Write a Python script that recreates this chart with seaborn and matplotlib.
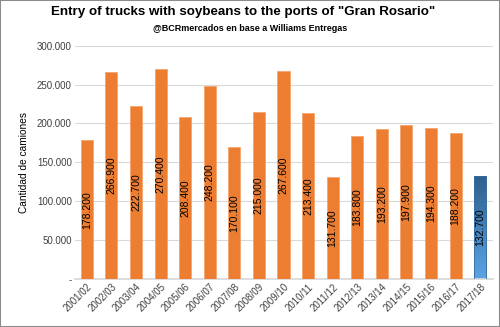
import numpy as np
import pandas as pd
import matplotlib
matplotlib.use("Agg")
import matplotlib.pyplot as plt
import seaborn as sns
from matplotlib.colors import LinearSegmentedColormap

campaigns = ["2001/02", "2002/03", "2003/04", "2004/05", "2005/06", "2006/07",
             "2007/08", "2008/09", "2009/10", "2010/11", "2011/12", "2012/13",
             "2013/14", "2014/15", "2015/16", "2016/17", "2017/18"]
trucks = [178200, 266900, 222700, 270400, 208400, 248200, 170100, 215000,
          267600, 213400, 131700, 183800, 193200, 197900, 194300, 188200, 132700]
yticks = [0, 50000, 100000, 150000, 200000, 250000, 300000]

df = pd.DataFrame({"campaign": campaigns, "trucks": trucks})

sns.set_theme(style="white")
plt.rcParams["font.family"] = ["Liberation Sans", "DejaVu Sans"]

fig = plt.figure(figsize=(5.0, 3.27), dpi=100)
ax = fig.add_axes([0.149, 0.147, 0.836, 0.713])

orange = "#ED7D31"
sns.barplot(data=df, x="campaign", y="trucks", color=orange, width=0.49,
            saturation=1, ax=ax, zorder=3, edgecolor="#F4A46C", linewidth=0.6)

# Latest campaign bar: blue vertical gradient
last = ax.patches[-1]
last.set_facecolor("none")
last.set_edgecolor("#3A6E9E")
x0, y0 = last.get_x(), last.get_y()
w, h = last.get_width(), last.get_height()
grad = LinearSegmentedColormap.from_list("blu", ["#5BA3E6", "#2E5F8C"])
img = ax.imshow(np.linspace(0, 1, 256).reshape(-1, 1), cmap=grad, aspect="auto",
                extent=[x0, x0 + w, y0, y0 + h], origin="lower", zorder=2.5)
img.set_clip_path(last)

ax.set_xlim(-0.5, len(campaigns) - 0.5)
ax.set_ylim(0, 300000)
ax.set_yticks(yticks)
ax.set_yticklabels(["-" if v == 0 else f"{v:,}".replace(",", ".") for v in yticks],
                   fontsize=7, color="#404040")
ax.yaxis.grid(True, color="#D9D9D9", linewidth=0.8, zorder=0)
ax.set_axisbelow(True)
for s in ax.spines.values():
    s.set_visible(False)
ax.spines["bottom"].set_visible(True)
ax.spines["bottom"].set_color("#D9D9D9")
ax.tick_params(axis="both", length=0, pad=2)
ax.set_xticks(range(len(campaigns)))
ax.set_xticklabels(campaigns, rotation=45, ha="right", rotation_mode="anchor",
                   fontsize=7, color="#404040")
ax.set_xlabel("")
ax.set_ylabel("Cantidad de camiones", fontsize=7.3, color="#000000", labelpad=6)

for i, v in enumerate(trucks):
    ax.text(i, v / 2, f"{v:,}".replace(",", "."), rotation=90, ha="center",
            va="center", fontsize=7.5, color="black", zorder=5)

fig.text(0.487, 0.962, 'Entry of trucks with soybeans to the ports of "Gran Rosario"',
         ha="center", va="center", fontsize=9.6, fontweight="bold", color="black")
fig.text(0.5, 0.913, "@BCRmercados en base a Williams Entregas",
         ha="center", va="center", fontsize=6.5, fontweight="bold", color="black",
         family=["Liberation Sans Narrow", "Liberation Sans", "DejaVu Sans"])

fig.patches.append(plt.Rectangle((0, 0), 1, 1, transform=fig.transFigure,
                                 fill=False, edgecolor="#8C8C8C", linewidth=1.5))

fig.savefig("out.png", dpi=100)
